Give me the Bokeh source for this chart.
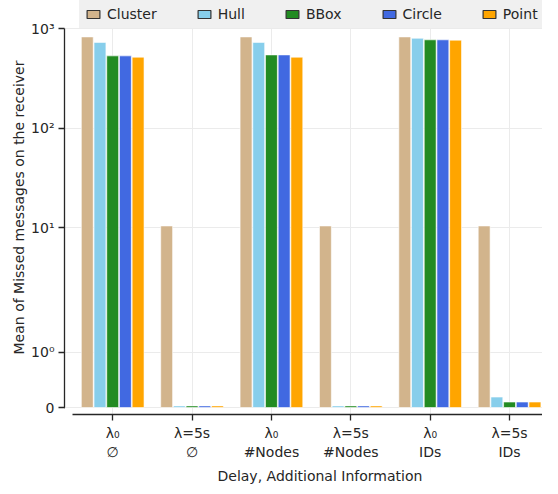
import numpy as np
from bokeh.plotting import figure
from bokeh.models import (ColumnDataSource, FixedTicker, Legend, LegendItem,
                          CustomJSTransform, Range1d, Title)
from bokeh.transform import dodge, transform
from bokeh.embed import file_html
from bokeh.resources import INLINE

# ---------------- data ----------------
categories = ["λ₀\n∅", "λ=5s\n∅", "λ₀\n#Nodes", "λ=5s\n#Nodes", "λ₀\nIDs", "λ=5s\nIDs"]
series = ["Cluster", "Hull", "BBox", "Circle", "Point"]
cluster = [830, 10.4, 830, 10.4, 830, 10.4]
hull = [731, 0.03, 731, 0.03, 805, 0.19]
bbox = [535, 0.03, 547, 0.03, 776, 0.10]
circle = [535, 0.03, 547, 0.03, 776, 0.10]
point = [519, 0.03, 519, 0.03, 770, 0.10]
colors = ["#d2b48c", "#87ceeb", "#228b22", "#4169e1", "#ffa500"]
y_ticks = [0, 1, 10, 100, 1000]
y_tick_labels = ["0", "10⁰", "10¹", "10²", "10³"]
x_label = "Delay, Additional Information"
y_label = "Mean of Missed messages on the receiver"

# symlog scale (linthresh=2, linscale=1, base 10)
LT, LS = 2.0, 1.0 / (1.0 - 1.0 / 10.0)


def symlog(v):
    a = abs(v)
    if a <= LT:
        return round(v * LS, 6)
    return round(float(np.sign(v) * LT * (LS + np.log10(a / LT))), 6)


symlog_js = CustomJSTransform(args=dict(lt=LT, ls=LS), func="""
const a = Math.abs(x);
return a <= lt ? x * ls : Math.sign(x) * lt * (ls + Math.log10(a / lt));
""", v_func="""
const out = new Float64Array(xs.length);
for (let i = 0; i < xs.length; i++) {
  const v = xs[i]; const a = Math.abs(v);
  out[i] = a <= lt ? v * ls : Math.sign(v) * lt * (ls + Math.log10(a / lt));
}
return out;
""")

src = ColumnDataSource(data=dict(x=list(range(len(categories))), Cluster=cluster, Hull=hull,
                                 BBox=bbox, Circle=circle, Point=point))

FONT = "DejaVu Sans"
TXT = "#262626"
LEG_BG = "#f0f0f0"

W, H = 542, 486
LEFT, BOTTOM = 64, 70
FRAME_H = H - BOTTOM            # frame top at canvas 0
ZERO_FROM_BOTTOM = 7            # px between the 0 line and the x axis
TOP_GAP = 28.5                  # px between frame top and the 10^3 line
LEG_BOTTOM = 30                 # px from frame top to legend bottom

top_t = symlog(1000)
scale = (FRAME_H - ZERO_FROM_BOTTOM - TOP_GAP) / top_t

p = figure(width=W, height=H, output_backend="svg", toolbar_location=None,
           x_range=Range1d(-0.607, 5.415),
           y_range=Range1d(-ZERO_FROM_BOTTOM / scale, top_t + TOP_GAP / scale),
           min_border_left=LEFT, min_border_right=0, min_border_top=0,
           min_border_bottom=BOTTOM)
p.outline_line_color = None
p.background_fill_color = "white"

offsets = [-0.32, -0.16, 0.0, 0.16, 0.32]
legend_items = []
for name, col, off in zip(series, colors, offsets):
    p.vbar(x=dodge("x", off, range=p.x_range), top=transform(name, symlog_js), bottom=0,
           width=0.15, source=src, fill_color=col, line_color="white", line_width=1,
           line_alpha=0.6)
    # legend swatch (dark edge), placed outside the visible range
    swatch = p.vbar(x=[-10], top=[0], bottom=[0], width=0.15, fill_color=col,
                    line_color="#333333", line_width=1.2)
    legend_items.append(LegendItem(label=name, renderers=[swatch]))

legend = Legend(items=legend_items, orientation="horizontal",
                location=(15, FRAME_H - LEG_BOTTOM),
                background_fill_color=LEG_BG, background_fill_alpha=1.0,
                border_line_color=LEG_BG, border_line_width=1,
                padding=5, margin=0, spacing=39,
                glyph_width=16, glyph_height=10, label_standoff=6, label_height=17,
                label_text_font=FONT, label_text_font_size="14px", label_text_color=TXT)
p.add_layout(legend, "center")

# x axis
xa = p.xaxis[0]
xa.ticker = FixedTicker(ticks=list(range(len(categories))))
xa.major_label_overrides = {i: lab for i, lab in enumerate(categories)}
xa.bounds = (-0.5, 5.5)
xa.minor_tick_line_color = None
xa.major_tick_out = 6
xa.major_tick_in = 0
xa.major_label_standoff = 4

p.add_layout(Title(text=x_label, align="left", offset=153, standoff=6,
                   text_font=FONT, text_font_size="14px", text_font_style="normal",
                   text_color=TXT), "below")

# y axis
ya = p.yaxis[0]
ya.ticker = FixedTicker(ticks=[symlog(t) for t in y_ticks])
ya.major_label_overrides = {symlog(t): lab for t, lab in zip(y_ticks, y_tick_labels)}
ya.bounds = (0, top_t)
ya.axis_label = y_label
ya.minor_tick_line_color = None
ya.major_tick_out = 6
ya.major_tick_in = 0
ya.major_label_standoff = 4
ya.axis_label_standoff = 1
ya.axis_label_text_font = FONT
ya.axis_label_text_font_size = "14px"
ya.axis_label_text_font_style = "normal"
ya.axis_label_text_color = TXT

for ax in (xa, ya):
    ax.axis_line_color = TXT
    ax.axis_line_width = 1.3
    ax.major_tick_line_color = TXT
    ax.major_tick_line_width = 1.3
    ax.major_label_text_font = FONT
    ax.major_label_text_font_size = "14px"
    ax.major_label_text_color = TXT

p.xgrid.grid_line_color = "#ebebeb"
p.ygrid.grid_line_color = "#ebebeb"
p.xgrid.grid_line_width = 1
p.ygrid.grid_line_width = 1

open("out.html", "w").write(file_html(p, INLINE))
